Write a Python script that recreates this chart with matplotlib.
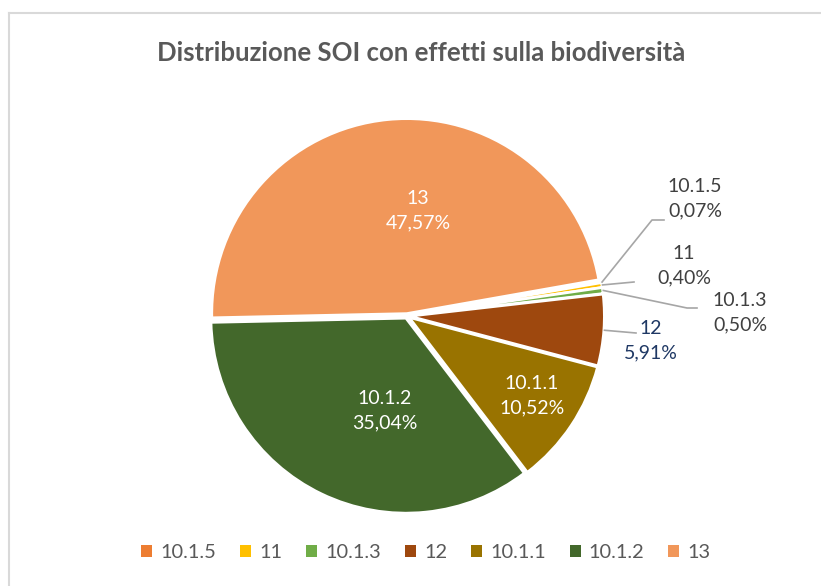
import numpy as np
import matplotlib
matplotlib.use("Agg")
import matplotlib.pyplot as plt
from matplotlib.lines import Line2D
from matplotlib.patches import Patch

plt.rcParams['font.family'] = ['Lato', 'DejaVu Sans']

labels = ['10.1.5', '11', '10.1.3', '12', '10.1.1', '10.1.2', '13']
values = [0.07, 0.40, 0.50, 5.91, 10.52, 35.04, 47.57]
colors = ['#ED7D31', '#FFC000', '#70AD47', '#9E480E', '#997300', '#43682B', '#F1975A']

W, H = 821, 586
fig = plt.figure(figsize=(W / 100, H / 100), dpi=100)

# chart border (only top and left visible in crop)
fig.add_artist(Line2D([8.5 / W, 8.5 / W], [0, 1 - 13 / H], transform=fig.transFigure,
                      color='#D9D9D9', lw=1.5))
fig.add_artist(Line2D([8.5 / W, 1], [1 - 13 / H, 1 - 13 / H], transform=fig.transFigure,
                      color='#D9D9D9', lw=1.5))

fig.text(421 / W, 1 - 53 / H, 'Distribuzione SOI con effetti sulla biodiversità',
         ha='center', va='center', fontsize=18.5, fontweight='bold', color='#595959')

# pie axes: centre (407,316) px, radius 198 px
cx, cy, r = 407, 316, 198
ax = fig.add_axes([(cx - r) / W, 1 - (cy + r) / H, 2 * r / W, 2 * r / H])

ax.pie(values, colors=colors, startangle=10, counterclock=False, radius=0.985,
       explode=[0.012] * len(values),
       wedgeprops=dict(edgecolor='white', linewidth=2))
ax.set_xlim(-1, 1)
ax.set_ylim(-1, 1)
ax.set_aspect('equal')
ax.axis('off')


def px(x, y):
    return (x - cx) / r, (cy - y) / r


def fmt(v):
    return f'{v:.2f}%'.replace('.', ',')


# inside labels
inside = {'13': (418, 211), '10.1.2': (385, 411), '10.1.1': (532, 396)}
for lab, (x, y) in inside.items():
    v = values[labels.index(lab)]
    ax.text(*px(x, y), f'{lab}\n{fmt(v)}', ha='center', va='center', color='white',
            fontsize=14, linespacing=1.55)

# outside labels with leader lines
outside = {
    '10.1.5': ((695, 199), [(652, 220), (664, 220)], '#404040'),
    '11': ((684, 266), [(634, 282)], '#404040'),
    '10.1.3': ((740, 313), [(687, 308), (697, 308)], '#404040'),
    '12': ((651, 341), [(636, 333)], '#1F3864'),
}
cum = np.cumsum([0] + values)
for lab, ((x, y), path, col) in outside.items():
    i = labels.index(lab)
    mid = 10 - 360 * (cum[i] + values[i] / 2) / 100
    sx, sy = np.cos(np.radians(mid)), np.sin(np.radians(mid))
    pts = [(sx, sy)] + [px(*p) for p in path]
    ax.plot([p[0] for p in pts], [p[1] for p in pts], color='#A6A6A6', lw=1.2,
            clip_on=False)
    ax.text(*px(x, y), f'{lab}\n{fmt(values[i])}', ha='center', va='center', color=col,
            fontsize=14, linespacing=1.55, clip_on=False)

handles = [Patch(facecolor=c, edgecolor='none') for c in colors]
fig.legend(handles, labels, loc='center', bbox_to_anchor=(426 / W, 1 - 553 / H), ncol=7,
           frameon=False, fontsize=14.4, handlelength=0.55, handleheight=0.55,
           handletextpad=0.4, columnspacing=1.2, labelcolor='#595959')

fig.savefig('out.png', dpi=100)
